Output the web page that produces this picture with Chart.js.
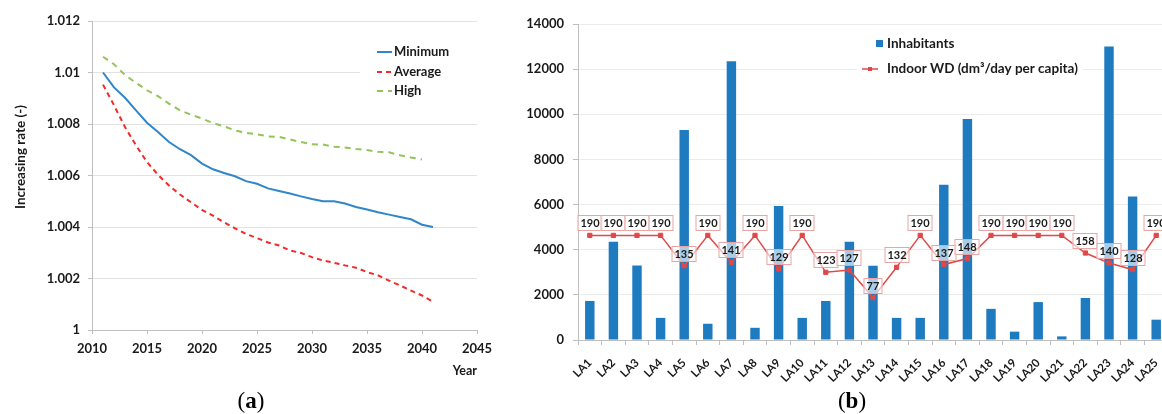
<!DOCTYPE html>
<html><head><meta charset="utf-8">
<script src="https://cdn.jsdelivr.net/npm/chart.js@4.4.1/dist/chart.umd.min.js"></script>
<style>
html,body{margin:0;padding:0;background:#fff;}
body{width:1162px;height:414px;overflow:hidden;position:relative;}
#ca{position:absolute;left:0;top:0;}
#cb{position:absolute;left:470px;top:0;}
.cap{position:absolute;top:388px;font-family:'Liberation Serif',serif;font-size:23px;color:#000;transform:translateX(-50%);line-height:26px;white-space:nowrap;}
</style></head><body>
<canvas id="ca" width="500" height="414"></canvas>
<canvas id="cb" width="720" height="414"></canvas>
<div class="cap" style="left:251px">(<b>a</b>)</div>
<div class="cap" style="left:852px">(<b>b</b>)</div>
<script>
// ---------- Chart (a) data ----------
const years = [2011,2012,2013,2014,2015,2016,2017,2018,2019,2020,2021,2022,2023,2024,2025,2026,2027,2028,2029,2030,2031,2032,2033,2034,2035,2036,2037,2038,2039,2040,2041];
const minimumRate = [1.0100,1.00942,1.00902,1.00853,1.00805,1.00769,1.00730,1.00702,1.00679,1.00646,1.00624,1.00610,1.00597,1.00578,1.00568,1.00550,1.00540,1.00530,1.00519,1.00509,1.00500,1.00500,1.00491,1.00478,1.00468,1.00457,1.00448,1.00439,1.00430,1.00409,1.00400];
const averageRate = [1.00953,1.00873,1.00788,1.00717,1.00652,1.00603,1.00561,1.00526,1.00496,1.00466,1.00444,1.00418,1.00395,1.00373,1.00357,1.00340,1.00328,1.00309,1.00299,1.00283,1.00270,1.00261,1.00251,1.00242,1.00225,1.00212,1.00192,1.00173,1.00153,1.00134,1.00110];
const highRate = [1.01061,1.01032,1.00990,1.00960,1.00931,1.00908,1.00879,1.00853,1.00836,1.00821,1.00804,1.00791,1.00775,1.00766,1.00760,1.00752,1.00750,1.00740,1.00730,1.00721,1.00720,1.00712,1.00709,1.00703,1.00699,1.00692,1.00690,1.00679,1.00670,1.00662,null];
const seriesNamesA = ['Minimum','Average','High'];
const yearTicks = [2010,2015,2020,2025,2030,2035,2040,2045];
const rateTicks = [1,1.002,1.004,1.006,1.008,1.01,1.012];
const yTitleA = 'Increasing rate (-)';

// ---------- Chart (b) data ----------
const areas = ['LA1','LA2','LA3','LA4','LA5','LA6','LA7','LA8','LA9','LA10','LA11','LA12','LA13','LA14','LA15','LA16','LA17','LA18','LA19','LA20','LA21','LA22','LA23','LA24','LA25'];
const inhabitants = [1730,4350,3300,980,9300,720,12350,540,5940,980,1730,4350,3290,980,980,6880,9790,1380,370,1680,160,1860,13000,6360,900];
const indoorWD = [190,190,190,190,135,190,141,190,129,190,123,127,77,132,190,137,148,190,190,190,190,158,140,128,190];
const inhabitantTicks = [0,2000,4000,6000,8000,10000,12000,14000];
const seriesNamesB = ['Inhabitants','Indoor WD (dm\u00B3/day per capita)'];

Chart.defaults.font.family = 'Lato, "Open Sans", sans-serif';
Chart.defaults.color = '#1a1a1a';
Chart.defaults.animation = false;

const toXY = arr => years.map((x, i) => ({x: x, y: arr[i]}));

const legendA = {
  id: 'legendA',
  beforeDatasetsDraw(chart) {
    const ctx = chart.ctx, ca = chart.chartArea;
    const x0 = ca.right - 117, y0 = 36;
    ctx.save();
    ctx.fillStyle = '#fff';
    ctx.fillRect(x0, y0, 118, 68);
    const ys = [52, 72, 91];
    chart.data.datasets.forEach((ds, i) => {
      const y = ys[i];
      ctx.strokeStyle = ds.borderColor;
      ctx.lineWidth = 2;
      ctx.setLineDash(ds.borderDash || []);
      ctx.beginPath();
      ctx.moveTo(x0 + 17, y);
      ctx.lineTo(x0 + 32, y);
      ctx.stroke();
      ctx.setLineDash([]);
      ctx.fillStyle = '#1a1a1a';
      ctx.font = 'bold 13px Lato';
      ctx.textBaseline = 'middle';
      ctx.textAlign = 'left';
      ctx.fillText(ds.label, x0 + 34, y);
    });
    // vertical axis title
    ctx.save();
    ctx.translate(21, 157);
    ctx.rotate(-Math.PI / 2);
    ctx.font = 'bold 13.5px Lato';
    ctx.textAlign = 'center';
    ctx.textBaseline = 'middle';
    ctx.fillStyle = '#1a1a1a';
    ctx.fillText(yTitleA, 0, 0);
    ctx.restore();
    ctx.restore();
  }
};

new Chart(document.getElementById('ca'), {
  type: 'line',
  data: {
    datasets: [
      {label: seriesNamesA[0], data: toXY(minimumRate), borderColor: '#2f86c8', borderWidth: 2, pointRadius: 0, fill: false},
      {label: seriesNamesA[1], data: toXY(averageRate), borderColor: '#f22a2a', borderWidth: 2, borderDash: [5, 4], pointRadius: 0, fill: false},
      {label: seriesNamesA[2], data: toXY(highRate), borderColor: '#92c45a', borderWidth: 2, borderDash: [6, 5], pointRadius: 0, fill: false}
    ]
  },
  options: {
    responsive: false,
    layout: {padding: {top: 21, right: 23, left: 0, bottom: 0}},
    plugins: {legend: {display: false}, tooltip: {enabled: false}},
    scales: {
      x: {
        type: 'linear', min: 2010, max: 2045,
        afterBuildTicks: s => { s.ticks = yearTicks.map(v => ({value: v})); },
        afterFit: s => { s.height = 84; },
        ticks: {padding: 7, font: {size: 13, weight: 'bold'}, color: '#1a1a1a', callback: v => String(v)},
        grid: {drawOnChartArea: false, tickColor: '#bfbfbf', tickLength: 4},
        border: {color: '#bfbfbf'},
        title: {display: true, text: 'Year', align: 'end', font: {size: 12.5, weight: 'bold'}, color: '#1a1a1a', padding: {top: 0, bottom: 36}}
      },
      y: {
        min: 1, max: 1.012,
        afterBuildTicks: s => { s.ticks = rateTicks.map(v => ({value: v})); },
        afterFit: s => { s.width = 92; },
        ticks: {padding: 8, font: {size: 13, weight: 'bold'}, color: '#1a1a1a', callback: v => String(Number(v.toFixed(3)))},
        grid: {color: '#e2e2e2', tickColor: '#bfbfbf', tickLength: 4},
        border: {color: '#bfbfbf'},
        title: {display: false}
      }
    }
  },
  plugins: [legendA]
});

const legendB = {
  id: 'legendB',
  beforeDatasetsDraw(chart) {
    const ctx = chart.ctx;
    const ds = chart.data.datasets;
    ctx.save();
    ctx.fillStyle = '#fff';
    ctx.fillRect(387, 30, 226, 55);
    ctx.font = 'bold 13.5px Lato';
    ctx.textBaseline = 'middle';
    ctx.textAlign = 'left';
    ctx.fillStyle = ds[0].backgroundColor;
    ctx.fillRect(406, 40, 7, 7);
    ctx.fillStyle = '#1a1a1a';
    ctx.fillText(ds[0].label, 417, 43.5);
    ctx.strokeStyle = ds[1].borderColor;
    ctx.lineWidth = 1.5;
    ctx.beginPath(); ctx.moveTo(392, 69); ctx.lineTo(408, 69); ctx.stroke();
    ctx.fillStyle = ds[1].borderColor;
    ctx.fillRect(398, 67, 4, 4);
    ctx.fillStyle = '#1a1a1a';
    ctx.fillText(ds[1].label, 417, 69);
    ctx.restore();
  }
};

const dataLabelsB = {
  id: 'dataLabelsB',
  afterDatasetsDraw(chart) {
    const ctx = chart.ctx;
    const meta = chart.getDatasetMeta(1);
    const vals = chart.data.datasets[1].data;
    ctx.save();
    ctx.font = 'bold 11px Lato';
    ctx.textAlign = 'center';
    ctx.textBaseline = 'middle';
    meta.data.forEach((pt, i) => {
      const txt = String(vals[i]);
      const w = Math.round(ctx.measureText(txt).width) + 6, h = 16;
      const cx = Math.round(pt.x), cy = Math.round(pt.y - 12);
      ctx.fillStyle = 'rgba(255,255,255,0.62)';
      ctx.fillRect(cx - w / 2, cy - h / 2, w, h);
      ctx.strokeStyle = '#e8a5a5';
      ctx.lineWidth = 1;
      ctx.strokeRect(cx - w / 2 + 0.5, cy - h / 2 + 0.5, w - 1, h - 1);
      ctx.fillStyle = '#1a1a1a';
      ctx.fillText(txt, cx, cy + 0.5);
    });
    ctx.restore();
  }
};

new Chart(document.getElementById('cb'), {
  type: 'bar',
  data: {
    labels: areas,
    datasets: [
      {type: 'bar', label: seriesNamesB[0], data: inhabitants, backgroundColor: '#1f7bbf', yAxisID: 'y', order: 2,
       barPercentage: 0.4, categoryPercentage: 1.0},
      {type: 'line', label: seriesNamesB[1], data: indoorWD, borderColor: '#e04848', backgroundColor: '#e04848', borderWidth: 1.5,
       pointStyle: 'rect', pointRadius: 3, pointBorderWidth: 1, pointBackgroundColor: '#e04848', pointBorderColor: '#e04848',
       yAxisID: 'y1', order: 1, tension: 0}
    ]
  },
  options: {
    responsive: false,
    layout: {padding: {top: 24, right: 22, left: 0, bottom: 0}},
    plugins: {legend: {display: false}, tooltip: {enabled: false}},
    scales: {
      x: {
        afterFit: s => { s.height = 74; },
        ticks: {autoSkip: false, minRotation: 45, maxRotation: 45, padding: 11, font: {size: 11.5, weight: 'bold'}, color: '#1a1a1a'},
        grid: {drawOnChartArea: false, tickColor: '#bfbfbf', tickLength: 5, offset: true},
        border: {color: '#bfbfbf'}
      },
      y: {
        min: 0, max: 14000,
        afterBuildTicks: s => { s.ticks = inhabitantTicks.map(v => ({value: v})); },
        afterFit: s => { s.width = 108; },
        ticks: {padding: 9, font: {size: 13, weight: 'bold'}, color: '#1a1a1a', callback: v => String(v)},
        grid: {color: '#ebebeb', tickColor: '#bfbfbf', tickLength: 5},
        border: {color: '#bfbfbf'}
      },
      y1: {display: false, min: 0, max: 574}
    }
  },
  plugins: [legendB, dataLabelsB]
});
</script>
</body></html>
